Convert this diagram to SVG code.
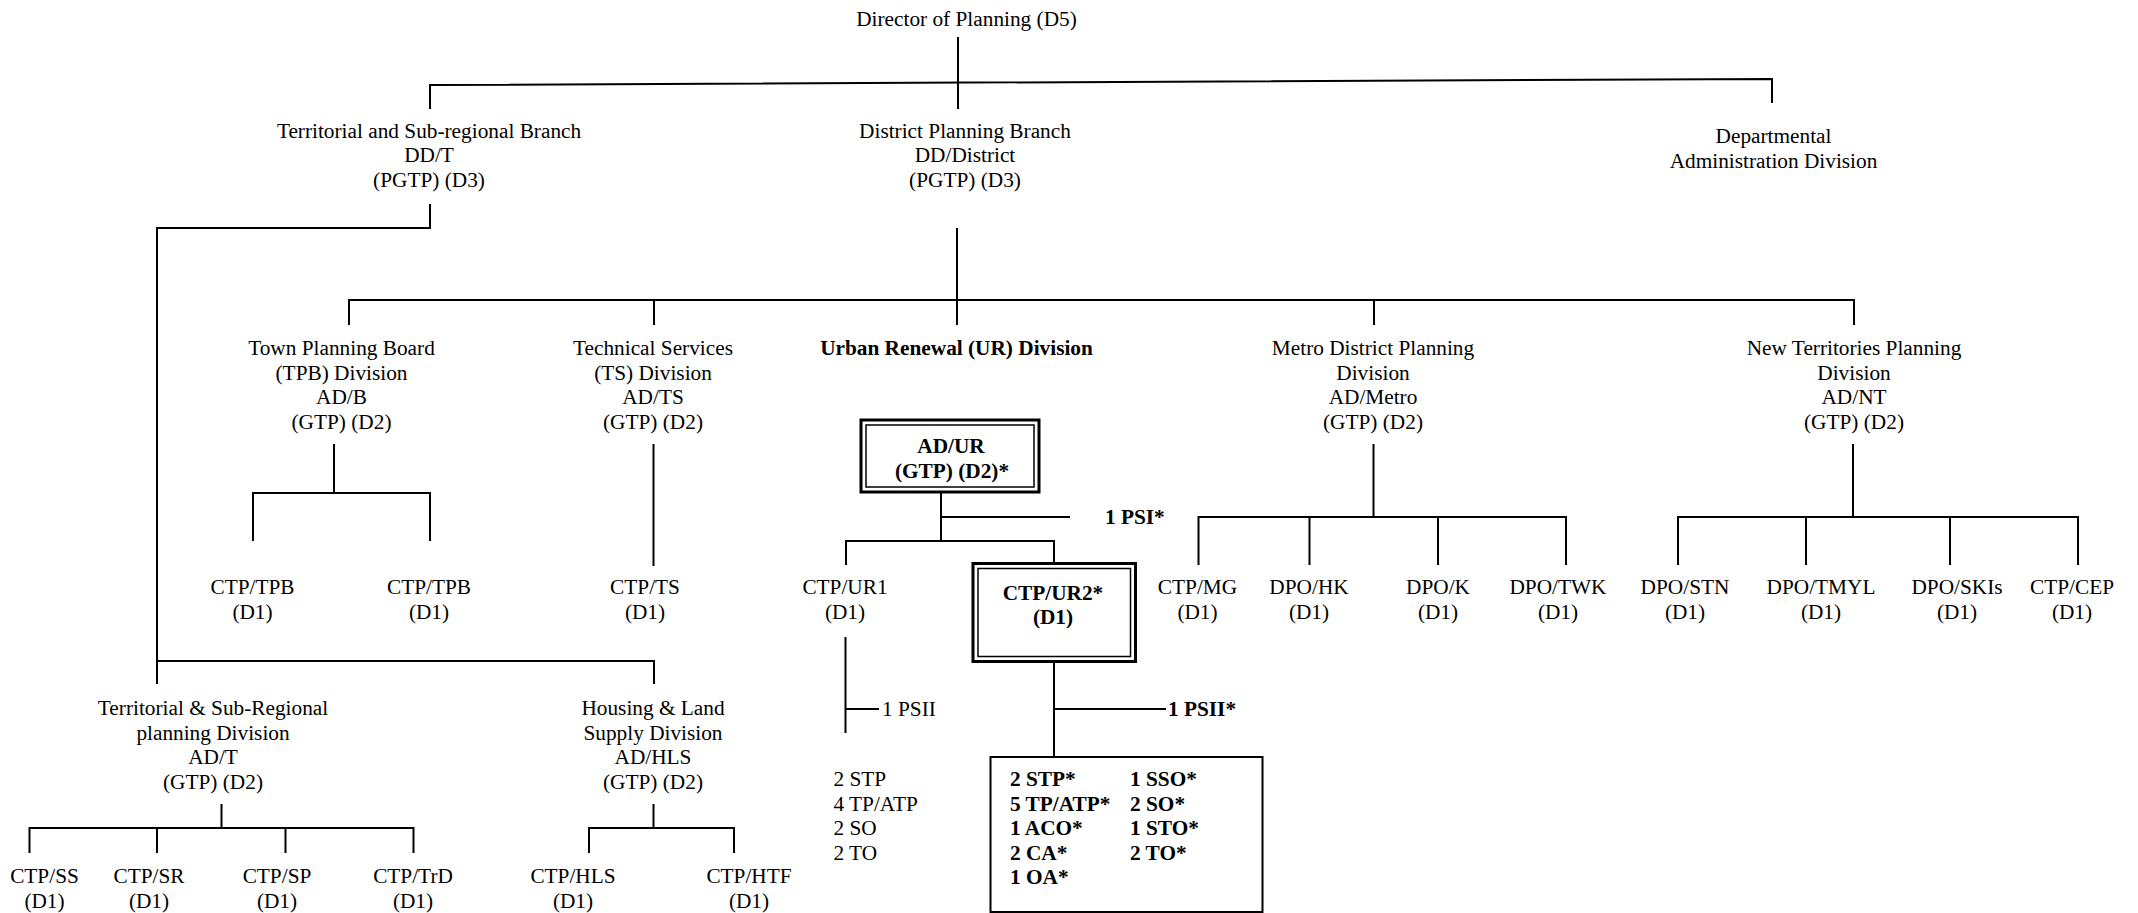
<svg xmlns="http://www.w3.org/2000/svg" width="2138" height="913" viewBox="0 0 2138 913">
<style>
text{font-family:"Liberation Serif","Times New Roman",serif;font-size:21.3px;fill:#000}
.c{text-anchor:middle}
.b{font-weight:bold}
.ln{fill:none;stroke:#000;stroke-width:2}
.ob{fill:none;stroke:#000;stroke-width:3}
.ib{fill:none;stroke:#000;stroke-width:1.5}
</style>
<rect width="2138" height="913" fill="#fff"/>
<g id="connectors" class="ln">
<path class="ln" d="M958,37 V109"/>
<path class="ln" d="M430,109 V85 L1772,79 V103"/>
<path class="ln" d="M430,204 V228 H157 V684"/>
<path class="ln" d="M157,661 H654 V684"/>
<path class="ln" d="M957,228 V325"/>
<path class="ln" d="M349,325 V300 H1854 V325 M654,300 V325 M1374,300 V325"/>
<path class="ln" d="M334,444 V493 M253,541 V493 H430 V541"/>
<path class="ln" d="M653.5,444 V566"/>
<path class="ln" d="M941,492 V541 M941,517 H1070"/>
<path class="ln" d="M846,565 V541 H1054 V563"/>
<path class="ln" d="M1373.5,444 V517 M1198.5,565 V517 H1566 V565 M1309.5,517 V565 M1438,517 V565"/>
<path class="ln" d="M1853,444 V517 M1678,565 V517 H2078 V565 M1806,517 V565 M1950,517 V565"/>
<path class="ln" d="M845.5,637 V733 M845.5,709 H879"/>
<path class="ln" d="M1054,662 V757 M1054,709 H1166"/>
<path class="ln" d="M221.5,804 V828 M29.5,853 V828 H413.5 V853 M157,828 V853 M285.5,828 V853"/>
<path class="ln" d="M653.5,804 V828 M589,853 V828 H734 V853"/>
</g>
<g id="director"><text class="c" x="966.5" y="25.5">Director of Planning (D5)</text></g>
<g id="territorial-branch">
<text class="c" x="429" y="137.5">Territorial and Sub-regional Branch</text>
<text class="c" x="429" y="162">DD/T</text>
<text class="c" x="429" y="186.5">(PGTP) (D3)</text>
</g>
<g id="district-branch">
<text class="c" x="965" y="137.5">District Planning Branch</text>
<text class="c" x="965" y="162">DD/District</text>
<text class="c" x="965" y="186.5">(PGTP) (D3)</text>
</g>
<g id="admin-division">
<text class="c" x="1773.5" y="143">Departmental</text>
<text class="c" x="1773.5" y="168">Administration Division</text>
</g>
<g id="tpb-division">
<text class="c" x="341.5" y="355">Town Planning Board</text>
<text class="c" x="341.5" y="379.5">(TPB) Division</text>
<text class="c" x="341.5" y="404">AD/B</text>
<text class="c" x="341.5" y="428.5">(GTP) (D2)</text>
</g>
<g id="ts-division">
<text class="c" x="653" y="355">Technical Services</text>
<text class="c" x="653" y="379.5">(TS) Division</text>
<text class="c" x="653" y="404">AD/TS</text>
<text class="c" x="653" y="428.5">(GTP) (D2)</text>
</g>
<g id="ur-division"><text class="c b" x="956.5" y="355">Urban Renewal (UR) Division</text></g>
<g id="metro-division">
<text class="c" x="1373" y="355">Metro District Planning</text>
<text class="c" x="1373" y="379.5">Division</text>
<text class="c" x="1373" y="404">AD/Metro</text>
<text class="c" x="1373" y="428.5">(GTP) (D2)</text>
</g>
<g id="nt-division">
<text class="c" x="1854" y="355">New Territories Planning</text>
<text class="c" x="1854" y="379.5">Division</text>
<text class="c" x="1854" y="404">AD/NT</text>
<text class="c" x="1854" y="428.5">(GTP) (D2)</text>
</g>
<g id="ad-ur">
<rect class="ob" x="861" y="420" width="178" height="72"/>
<rect class="ib" x="866" y="425" width="168" height="62"/>
<text class="c b" x="951" y="453">AD/UR</text>
<text class="c b" x="952" y="478">(GTP) (D2)*</text>
</g>
<g id="psi"><text class="b" x="1105" y="524">1 PSI*</text></g>
<g id="ctp-tpb-1"><text class="c" x="252.5" y="593.5">CTP/TPB</text><text class="c" x="252.5" y="619">(D1)</text></g>
<g id="ctp-tpb-2"><text class="c" x="429" y="593.5">CTP/TPB</text><text class="c" x="429" y="619">(D1)</text></g>
<g id="ctp-ts"><text class="c" x="645" y="593.5">CTP/TS</text><text class="c" x="645" y="619">(D1)</text></g>
<g id="ctp-ur1"><text class="c" x="845" y="593.5">CTP/UR1</text><text class="c" x="845" y="619">(D1)</text></g>
<g id="ctp-ur2">
<rect class="ob" x="973" y="563.5" width="162.5" height="98"/>
<rect class="ib" x="978" y="568.5" width="152.5" height="88"/>
<text class="c b" x="1053" y="599.5">CTP/UR2*</text>
<text class="c b" x="1053" y="624">(D1)</text>
</g>
<g id="ctp-mg"><text class="c" x="1197.5" y="593.5">CTP/MG</text><text class="c" x="1197.5" y="619">(D1)</text></g>
<g id="dpo-hk"><text class="c" x="1309" y="593.5">DPO/HK</text><text class="c" x="1309" y="619">(D1)</text></g>
<g id="dpo-k"><text class="c" x="1438" y="593.5">DPO/K</text><text class="c" x="1438" y="619">(D1)</text></g>
<g id="dpo-twk"><text class="c" x="1558" y="593.5">DPO/TWK</text><text class="c" x="1558" y="619">(D1)</text></g>
<g id="dpo-stn"><text class="c" x="1685" y="593.5">DPO/STN</text><text class="c" x="1685" y="619">(D1)</text></g>
<g id="dpo-tmyl"><text class="c" x="1821" y="593.5">DPO/TMYL</text><text class="c" x="1821" y="619">(D1)</text></g>
<g id="dpo-skis"><text class="c" x="1957" y="593.5">DPO/SKIs</text><text class="c" x="1957" y="619">(D1)</text></g>
<g id="ctp-cep"><text class="c" x="2072" y="593.5">CTP/CEP</text><text class="c" x="2072" y="619">(D1)</text></g>
<g id="psii-ur1"><text x="882" y="715.5">1 PSII</text></g>
<g id="psii-ur2"><text class="b" x="1168" y="715.5">1 PSII*</text></g>
<g id="ur1-staff">
<text x="833.5" y="786">2 STP</text>
<text x="833.5" y="810.5">4 TP/ATP</text>
<text x="833.5" y="835">2 SO</text>
<text x="833.5" y="859.5">2 TO</text>
</g>
<g id="ur2-staff">
<rect class="ln" x="990.5" y="757" width="272" height="155"/>
<text class="b" x="1010" y="786">2 STP*</text>
<text class="b" x="1010" y="810.5">5 TP/ATP*</text>
<text class="b" x="1010" y="835">1 ACO*</text>
<text class="b" x="1010" y="859.5">2 CA*</text>
<text class="b" x="1010" y="884">1 OA*</text>
<text class="b" x="1130" y="786">1 SSO*</text>
<text class="b" x="1130" y="810.5">2 SO*</text>
<text class="b" x="1130" y="835">1 STO*</text>
<text class="b" x="1130" y="859.5">2 TO*</text>
</g>
<g id="tsr-division">
<text class="c" x="213" y="715">Territorial &amp; Sub-Regional</text>
<text class="c" x="213" y="739.5">planning Division</text>
<text class="c" x="213" y="764">AD/T</text>
<text class="c" x="213" y="788.5">(GTP) (D2)</text>
</g>
<g id="hls-division">
<text class="c" x="653" y="715">Housing &amp; Land</text>
<text class="c" x="653" y="739.5">Supply Division</text>
<text class="c" x="653" y="764">AD/HLS</text>
<text class="c" x="653" y="788.5">(GTP) (D2)</text>
</g>
<g id="ctp-ss"><text class="c" x="44.5" y="883">CTP/SS</text><text class="c" x="44.5" y="908">(D1)</text></g>
<g id="ctp-sr"><text class="c" x="149" y="883">CTP/SR</text><text class="c" x="149" y="908">(D1)</text></g>
<g id="ctp-sp"><text class="c" x="277" y="883">CTP/SP</text><text class="c" x="277" y="908">(D1)</text></g>
<g id="ctp-trd"><text class="c" x="413" y="883">CTP/TrD</text><text class="c" x="413" y="908">(D1)</text></g>
<g id="ctp-hls"><text class="c" x="573" y="883">CTP/HLS</text><text class="c" x="573" y="908">(D1)</text></g>
<g id="ctp-htf"><text class="c" x="749" y="883">CTP/HTF</text><text class="c" x="749" y="908">(D1)</text></g>
</svg>
